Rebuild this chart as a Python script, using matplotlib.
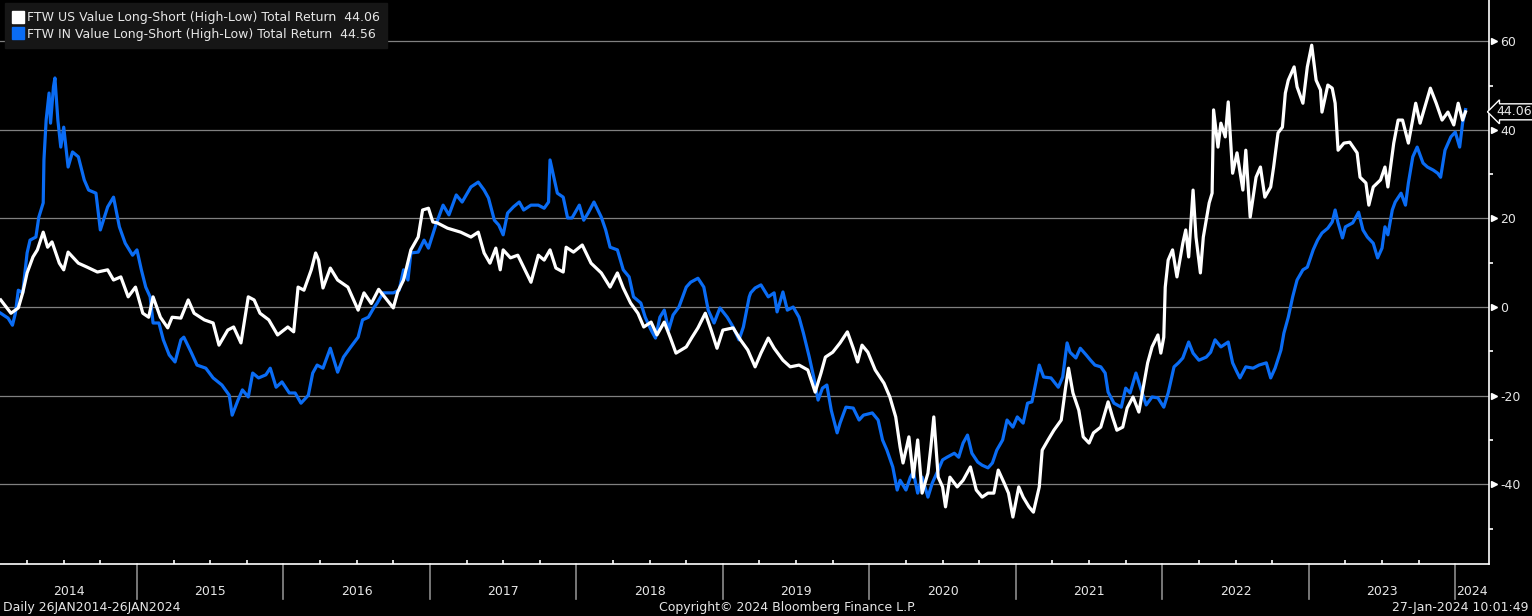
import numpy as np
import matplotlib
matplotlib.use("Agg")
from matplotlib import pyplot as plt
from matplotlib.lines import Line2D
import matplotlib.transforms as mtransforms

# values (x in decimal years)
us_t = [2014.07, 2014.14, 2014.19, 2014.22, 2014.25, 2014.29, 2014.32, 2014.36, 2014.39, 2014.42,
        2014.47, 2014.50, 2014.53, 2014.60, 2014.66, 2014.73, 2014.80, 2014.84, 2014.89, 2014.94,
        2014.99, 2015.04, 2015.08, 2015.11, 2015.16, 2015.21, 2015.24, 2015.30, 2015.35, 2015.39,
        2015.46, 2015.52, 2015.56, 2015.62, 2015.66, 2015.71, 2015.76, 2015.80, 2015.84, 2015.90,
        2015.96, 2016.03, 2016.07, 2016.10, 2016.14, 2016.19, 2016.22, 2016.24, 2016.27, 2016.32,
        2016.37, 2016.44, 2016.51, 2016.55, 2016.60, 2016.65, 2016.75, 2016.78, 2016.82, 2016.87,
        2016.92, 2016.95, 2016.99, 2017.02, 2017.05, 2017.12, 2017.21, 2017.28, 2017.33, 2017.37,
        2017.41, 2017.45, 2017.48, 2017.50, 2017.55, 2017.60, 2017.64, 2017.69, 2017.74, 2017.78,
        2017.82, 2017.86, 2017.91, 2017.93, 2017.98, 2018.04, 2018.10, 2018.17, 2018.23, 2018.28,
        2018.32, 2018.37, 2018.42, 2018.46, 2018.51, 2018.55, 2018.60, 2018.64, 2018.68, 2018.75,
        2018.79, 2018.83, 2018.88, 2018.92, 2018.96, 2019.00, 2019.07, 2019.12, 2019.17, 2019.22,
        2019.26, 2019.31, 2019.35, 2019.41, 2019.46, 2019.52, 2019.58, 2019.63, 2019.67, 2019.70,
        2019.75, 2019.80, 2019.85, 2019.89, 2019.92, 2019.95, 2019.99, 2020.04, 2020.10, 2020.14,
        2020.18, 2020.21, 2020.23, 2020.27, 2020.30, 2020.33, 2020.36, 2020.40, 2020.42, 2020.44,
        2020.47, 2020.50, 2020.52, 2020.55, 2020.60, 2020.64, 2020.69, 2020.73, 2020.77, 2020.81,
        2020.85, 2020.88, 2020.92, 2020.95, 2020.98, 2021.02, 2021.05, 2021.09, 2021.12, 2021.16,
        2021.18, 2021.22, 2021.26, 2021.31, 2021.34, 2021.36, 2021.39, 2021.43, 2021.46, 2021.50,
        2021.53, 2021.58, 2021.63, 2021.66, 2021.69, 2021.73, 2021.76, 2021.80, 2021.84, 2021.87,
        2021.90, 2021.93, 2021.97, 2021.99, 2022.01, 2022.02, 2022.04, 2022.07, 2022.10, 2022.14,
        2022.16, 2022.18, 2022.21, 2022.23, 2022.26, 2022.28, 2022.32, 2022.34, 2022.35, 2022.38,
        2022.40, 2022.43, 2022.45, 2022.48, 2022.51, 2022.55, 2022.57, 2022.60, 2022.64, 2022.67,
        2022.70, 2022.74, 2022.76, 2022.79, 2022.82, 2022.84, 2022.86, 2022.90, 2022.92, 2022.96,
        2022.99, 2023.02, 2023.05, 2023.08, 2023.09, 2023.13, 2023.16, 2023.18, 2023.20, 2023.24,
        2023.28, 2023.33, 2023.35, 2023.39, 2023.41, 2023.44, 2023.49, 2023.52, 2023.54, 2023.58,
        2023.61, 2023.64, 2023.68, 2023.73, 2023.76, 2023.80, 2023.83, 2023.87, 2023.91, 2023.95,
        2023.99, 2024.02, 2024.05, 2024.07]
us_val = [1.6, -1.4, -0.2, 3.2, 7.7, 11.3, 12.9, 16.9, 13.5, 14.7,
          9.9, 8.4, 12.4, 9.9, 9.0, 7.9, 8.4, 6.1, 6.8, 2.3,
          4.5, -1.4, -2.3, 2.3, -2.3, -4.7, -2.3, -2.5, 1.6, -1.4,
          -2.9, -3.6, -8.6, -5.2, -4.5, -8.1, 2.3, 1.6, -1.4, -2.9,
          -6.3, -4.5, -5.6, 4.5, 3.8, 8.4, 12.2, 10.6, 4.3, 8.8,
          6.1, 4.5, -0.7, 3.2, 0.8, 4.0, -0.2, 3.4, 6.1, 12.9,
          15.8, 21.9, 22.3, 19.2, 19.0, 17.8, 16.9, 15.8, 16.9, 12.2,
          9.9, 13.3, 8.4, 12.9, 11.1, 11.7, 9.0, 5.6, 11.7, 10.6,
          12.9, 8.8, 7.9, 13.5, 12.4, 14.0, 9.9, 7.7, 4.5, 7.7,
          4.3, 0.9, -1.4, -4.5, -3.4, -6.3, -3.4, -6.8, -10.4, -9.0,
          -6.8, -4.7, -1.4, -5.2, -9.3, -5.2, -4.7, -7.4, -9.7, -13.5,
          -10.4, -7.0, -9.3, -12.0, -13.5, -13.1, -14.2, -19.2, -14.9, -11.3,
          -10.2, -8.1, -5.6, -9.3, -12.4, -8.6, -10.2, -14.2, -17.2, -20.3,
          -24.8, -31.6, -35.2, -29.3, -38.4, -30.0, -42.0, -37.5, -31.6, -24.8,
          -38.4, -40.6, -45.1, -38.4, -40.6, -39.1, -36.1, -41.3, -42.9, -42.0,
          -42.0, -36.8, -39.7, -42.0, -47.4, -40.6, -42.9, -45.1, -46.3, -40.6,
          -32.3, -30.0, -27.8, -25.5, -18.1, -13.8, -19.4, -23.3, -29.3, -30.7,
          -28.4, -27.1, -21.4, -24.8, -27.8, -27.1, -22.8, -20.3, -23.7, -18.1,
          -12.6, -9.0, -6.3, -10.4, -6.8, 4.5, 10.6, 12.9, 6.8, 14.4,
          17.4, 11.3, 26.4, 15.8, 7.7, 15.8, 23.5, 25.7, 44.5, 36.1,
          41.5, 38.4, 46.3, 30.2, 34.8, 26.4, 35.4, 20.3, 29.3, 31.6,
          24.8, 27.1, 31.6, 39.3, 40.6, 48.3, 51.2, 54.2, 49.7, 46.0,
          54.2, 59.1, 51.2, 49.0, 44.0, 50.1, 49.4, 46.0, 35.4, 37.0,
          37.2, 34.8, 29.3, 28.0, 23.0, 27.1, 28.7, 31.6, 27.1, 37.0,
          42.2, 42.2, 37.0, 46.0, 41.5, 46.0, 49.4, 46.0, 42.2, 44.0,
          41.1, 46.0, 42.2, 44.06]

in_t = [2014.07, 2014.12, 2014.15, 2014.17, 2014.19, 2014.22, 2014.25, 2014.27, 2014.31, 2014.33,
        2014.36, 2014.365, 2014.38, 2014.40, 2014.41, 2014.43, 2014.44, 2014.46, 2014.48, 2014.50,
        2014.53, 2014.56, 2014.60, 2014.64, 2014.67, 2014.72, 2014.75, 2014.80, 2014.84, 2014.88,
        2014.92, 2014.97, 2015.00, 2015.03, 2015.06, 2015.09, 2015.11, 2015.15, 2015.18, 2015.22,
        2015.26, 2015.30, 2015.32, 2015.37, 2015.41, 2015.47, 2015.52, 2015.58, 2015.63, 2015.65,
        2015.69, 2015.72, 2015.76, 2015.79, 2015.83, 2015.88, 2015.91, 2015.95, 2015.99, 2016.04,
        2016.08, 2016.12, 2016.17, 2016.20, 2016.23, 2016.27, 2016.32, 2016.37, 2016.41, 2016.46,
        2016.51, 2016.54, 2016.58, 2016.62, 2016.64, 2016.68, 2016.75, 2016.79, 2016.82, 2016.85,
        2016.87, 2016.92, 2016.96, 2016.99, 2017.04, 2017.09, 2017.13, 2017.18, 2017.22, 2017.28,
        2017.33, 2017.37, 2017.40, 2017.44, 2017.47, 2017.50, 2017.53, 2017.57, 2017.61, 2017.64,
        2017.69, 2017.74, 2017.78, 2017.81, 2017.82, 2017.84, 2017.87, 2017.91, 2017.94, 2017.97,
        2018.02, 2018.05, 2018.08, 2018.12, 2018.17, 2018.20, 2018.23, 2018.28, 2018.32, 2018.36,
        2018.39, 2018.44, 2018.47, 2018.51, 2018.54, 2018.57, 2018.60, 2018.63, 2018.66, 2018.70,
        2018.75, 2018.78, 2018.83, 2018.87, 2018.90, 2018.94, 2018.98, 2019.03, 2019.07, 2019.11,
        2019.14, 2019.18, 2019.19, 2019.22, 2019.26, 2019.31, 2019.35, 2019.37, 2019.41, 2019.44,
        2019.48, 2019.52, 2019.55, 2019.59, 2019.62, 2019.65, 2019.68, 2019.71, 2019.74, 2019.78,
        2019.80, 2019.84, 2019.89, 2019.93, 2019.96, 2020.02, 2020.06, 2020.09, 2020.12, 2020.16,
        2020.19, 2020.21, 2020.25, 2020.28, 2020.30, 2020.33, 2020.36, 2020.40, 2020.43, 2020.47,
        2020.50, 2020.53, 2020.58, 2020.61, 2020.64, 2020.67, 2020.70, 2020.74, 2020.77, 2020.81,
        2020.84, 2020.87, 2020.91, 2020.94, 2020.98, 2021.01, 2021.05, 2021.08, 2021.11, 2021.14,
        2021.16, 2021.19, 2021.24, 2021.29, 2021.32, 2021.35, 2021.37, 2021.41, 2021.44, 2021.48,
        2021.51, 2021.54, 2021.58, 2021.61, 2021.63, 2021.67, 2021.72, 2021.75, 2021.78, 2021.82,
        2021.85, 2021.89, 2021.93, 2021.97, 2022.01, 2022.04, 2022.08, 2022.11, 2022.14, 2022.18,
        2022.21, 2022.25, 2022.30, 2022.33, 2022.36, 2022.40, 2022.45, 2022.48, 2022.51, 2022.53,
        2022.57, 2022.62, 2022.66, 2022.71, 2022.74, 2022.77, 2022.81, 2022.83, 2022.86, 2022.89,
        2022.92, 2022.96, 2022.99, 2023.03, 2023.06, 2023.09, 2023.13, 2023.16, 2023.18, 2023.20,
        2023.23, 2023.25, 2023.30, 2023.34, 2023.37, 2023.40, 2023.44, 2023.47, 2023.50, 2023.52,
        2023.54, 2023.57, 2023.59, 2023.63, 2023.66, 2023.68, 2023.71, 2023.74, 2023.78, 2023.81,
        2023.85, 2023.88, 2023.90, 2023.93, 2023.97, 2024.00, 2024.03, 2024.05, 2024.07]
in_val = [-1.4, -2.5, -4.1, -1.4, 3.8, 3.2, 12.2, 15.1, 15.8, 20.3,
          23.5, 33.2, 42.2, 48.3, 41.5, 49.7, 51.7, 42.2, 36.1, 40.6,
          31.6, 35.0, 33.9, 28.7, 26.4, 25.7, 17.4, 22.6, 24.8, 18.1,
          14.4, 11.7, 12.9, 8.4, 4.5, 2.3, -3.6, -3.6, -7.4, -10.8,
          -12.4, -7.4, -6.8, -10.2, -13.1, -13.8, -16.0, -17.6, -19.9, -24.4,
          -21.0, -18.7, -20.3, -14.9, -16.0, -15.3, -13.8, -18.1, -16.9, -19.4,
          -19.4, -21.7, -19.9, -14.9, -13.1, -13.8, -9.3, -14.7, -11.3, -9.0,
          -6.8, -2.9, -2.3, 0.0, 0.9, 3.2, 3.2, 3.8, 8.4, 6.1,
          12.2, 12.4, 15.1, 13.3, 18.5, 23.0, 20.8, 25.3, 23.7, 27.1,
          28.2, 26.4, 24.6, 19.6, 18.5, 16.3, 21.2, 22.6, 23.7, 21.9,
          23.0, 23.0, 22.3, 23.7, 33.2, 30.2, 25.7, 24.8, 20.1, 20.1,
          23.0, 19.6, 21.2, 23.7, 20.3, 17.4, 13.5, 12.9, 8.4, 6.8,
          2.3, 0.9, -2.3, -5.2, -7.0, -2.3, -0.7, -5.2, -1.8, 0.0,
          4.5, 5.6, 6.5, 4.5, -0.7, -3.6, -0.2, -2.3, -4.5, -7.4,
          -4.5, 2.3, 3.2, 4.3, 5.0, 2.3, 3.2, -1.1, 3.4, -0.7,
          0.0, -2.3, -5.9, -11.3, -15.8, -21.0, -18.3, -17.6, -23.3, -28.4,
          -26.2, -22.6, -22.8, -25.5, -24.4, -23.9, -25.5, -30.0, -32.3, -36.1,
          -41.3, -39.1, -41.3, -38.4, -37.2, -42.0, -38.4, -42.9, -39.7, -36.8,
          -34.5, -33.9, -33.0, -33.9, -30.7, -28.9, -33.0, -35.0, -35.7, -36.3,
          -35.2, -32.3, -30.0, -25.5, -27.1, -24.8, -26.2, -21.7, -21.4, -16.5,
          -13.1, -15.8, -16.0, -18.1, -15.8, -8.1, -10.2, -11.5, -9.3, -10.8,
          -12.0, -13.1, -13.5, -14.9, -19.2, -21.7, -22.6, -18.3, -19.4, -14.9,
          -18.1, -22.1, -20.3, -20.5, -22.6, -19.4, -13.5, -12.6, -11.5, -7.9,
          -10.4, -12.0, -11.3, -10.2, -7.4, -9.0, -7.9, -12.6, -14.7, -16.0,
          -13.5, -13.8, -13.1, -12.6, -16.0, -13.8, -9.7, -5.9, -2.3, 2.3,
          6.1, 8.4, 9.0, 12.9, 15.1, 16.7, 17.8, 19.2, 21.9, 19.0,
          15.6, 18.1, 19.0, 21.4, 17.4, 15.8, 14.4, 11.1, 13.3, 18.1,
          16.3, 21.9, 23.7, 25.7, 23.0, 28.0, 33.9, 36.1, 32.5, 31.6,
          30.9, 30.2, 29.3, 35.4, 38.4, 39.5, 36.1, 41.5, 44.56]

us_label = "FTW US Value Long-Short (High-Low) Total Return  44.06"
in_label = "FTW IN Value Long-Short (High-Low) Total Return  44.56"
years = list(range(2014, 2025))
y_major = [-40, -20, 0, 20, 40, 60]
y_minor = [-50, -30, -10, 10, 30, 50]
x_start, x_end = 2014.065, 2024.23
blue = '#0a6cf4'
txt = '#e6e6e6'

plt.rcParams['font.family'] = ['DejaVu Sans']
fig = plt.figure(figsize=(15.32, 6.16), dpi=100, facecolor='black')
ax = fig.add_axes([0.0, 0.0844, 0.9719, 0.9156], facecolor='black')

ax.plot(in_t, in_val, color=blue, lw=2.3, zorder=3, solid_joinstyle='round')
ax.plot(us_t, us_val, color='white', lw=2.3, zorder=4, solid_joinstyle='round')

ax.set_xlim(x_start, x_end)
ax.set_ylim(-58, 69.3)

for s in ['left', 'top']:
    ax.spines[s].set_visible(False)
for s in ['right', 'bottom']:
    ax.spines[s].set_color('white')
    ax.spines[s].set_linewidth(1.2)

# horizontal grid
for v in y_major:
    ax.axhline(v, color='#808080', lw=0.9, zorder=1)

# right axis
ax.yaxis.tick_right()
ax.set_yticks(y_major)
ax.set_yticklabels([str(v) for v in y_major])
ax.set_yticks(y_minor, minor=True)
ax.tick_params(axis='y', which='major', length=0, pad=8, labelsize=9, labelcolor=txt)
ax.tick_params(axis='y', which='minor', direction='out', length=3, width=1.2, color='white')
tri = mtransforms.blended_transform_factory(ax.transAxes, ax.transData)
ax.plot([1.0033] * len(y_major), y_major, linestyle='none', marker='>', markersize=5,
        color='white', transform=tri, clip_on=False)

# bottom axis: quarter ticks, year separators, centred year labels
quarters = [y + q for y in years for q in (0.25, 0.5, 0.75) if x_start < y + q < x_end]
ax.set_xticks(quarters, minor=True)
ax.set_xticks([])
ax.tick_params(axis='x', which='minor', direction='in', length=3, width=1.2, color='white')
sep = mtransforms.blended_transform_factory(ax.transData, ax.transAxes)
for y in years[1:]:
    ax.plot([y, y], [0, -0.062], color='#8c8c8c', lw=1.2, transform=sep, clip_on=False)
for y in years:
    lo, hi = max(y, x_start), min(y + 1, x_end)
    ax.text((lo + hi) / 2, -0.049, str(y), transform=sep, ha='center', va='center',
            fontsize=9, color=txt)

# last value tag
ax.annotate('44.06', xy=(1.0, 44.06), xycoords=tri, xytext=(5, 0), textcoords='offset points',
            ha='left', va='center', fontsize=9, color=txt, annotation_clip=False,
            bbox=dict(boxstyle='larrow,pad=0.12', fc='black', ec='white', lw=1.0))

# legend
handles = [Line2D([], [], linestyle='none', marker='s', markersize=9, color='white'),
           Line2D([], [], linestyle='none', marker='s', markersize=9, color=blue)]
leg = ax.legend(handles, [us_label, in_label], loc='upper left', bbox_to_anchor=(0.0035, 0.994),
                frameon=True, fancybox=False, facecolor='#161616', edgecolor='#161616',
                framealpha=1, fontsize=9, labelcolor=txt, handlelength=0.8, handletextpad=0.35,
                borderpad=0.6, labelspacing=0.3, borderaxespad=0.0)
leg.set_zorder(10)

fig.text(0.002, 0.014, 'Daily 26JAN2014-26JAN2024', fontsize=9, color=txt, ha='left', va='center')
fig.text(0.514, 0.014, 'Copyright\u00a9 2024 Bloomberg Finance L.P.', fontsize=9, color=txt,
         ha='center', va='center')
fig.text(0.998, 0.014, '27-Jan-2024 10:01:49', fontsize=9, color=txt, ha='right', va='center')

fig.savefig('out.png', dpi=100, facecolor='black')
